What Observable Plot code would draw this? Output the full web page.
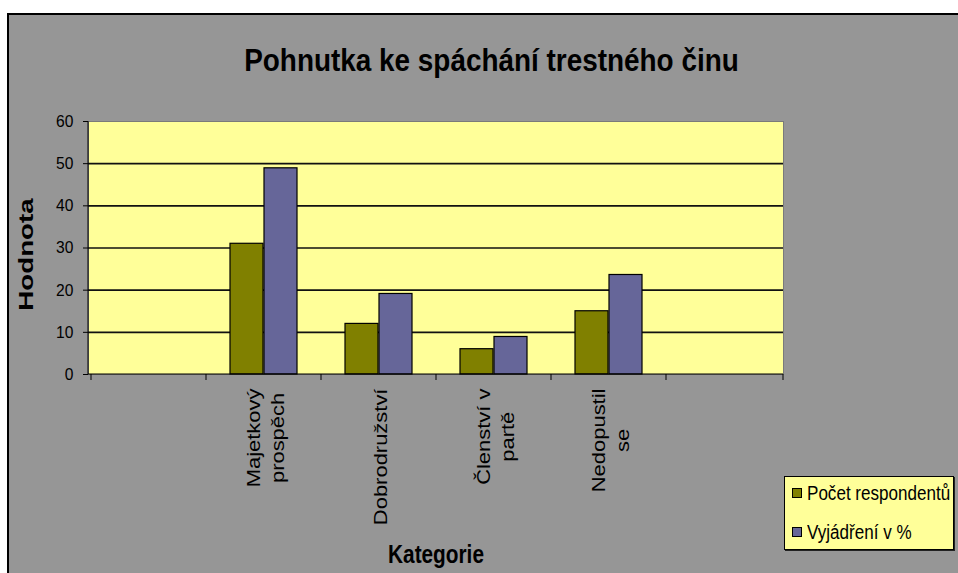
<!DOCTYPE html>
<html><head><meta charset="utf-8">
<script src="https://cdn.jsdelivr.net/npm/d3@7"></script>
<script src="https://cdn.jsdelivr.net/npm/@observablehq/plot@0.6"></script>
<style>
html,body{margin:0;padding:0;background:#fff;width:958px;height:573px;overflow:hidden;font-family:"Liberation Sans",Arial,sans-serif;}
#bg{position:absolute;left:7px;top:13px;width:1000px;height:600px;background:#969696;border-left:2px solid #000;border-top:2px solid #000;}
#title{position:absolute;left:0;width:983px;top:44.5px;text-align:center;font-weight:bold;font-size:31px;line-height:31px;transform:scaleX(0.9);transform-origin:491.5px 0;white-space:nowrap;color:#000;}
#chart{position:absolute;left:0;top:0;}
#legend{position:absolute;left:784px;top:476px;width:170px;height:74px;box-sizing:border-box;background:#ffff99;border:1px solid #000;box-shadow:1px 1px 0 #222;}
.row{position:absolute;left:7px;height:22px;display:flex;align-items:center;}
.sw{width:8px;height:8px;border:1px solid #000;}
.lt{margin-left:5px;font-size:20px;line-height:22px;transform:scaleX(0.853);transform-origin:0 50%;white-space:nowrap;color:#000;}
</style>
</head><body>
<div id="bg"></div>
<div id="title"></div>
<div id="chart"></div>
<div id="legend"></div>
<script>
const chartTitle = "Pohnutka ke spáchání trestného činu";
const yLabel = "Hodnota";
const xLabel = "Kategorie";
const categories = ["Majetkový prospěch", "Dobrodružství", "Členství v partě", "Nedopustil se"];
const tickLabels = ["Majetkový\nprospěch", "Dobrodružství", "Členství v\npartě", "Nedopustil\nse"];
const seriesNames = ["Počet respondentů", "Vyjádření v %"];
const pocetRespondentu = [31, 12, 6, 15];
const vyjadreniProcent = [48.9, 19.1, 8.9, 23.6];
const seriesColors = ["#808000", "#666699"];
const yTicks = [0, 10, 20, 30, 40, 50, 60];
const emptySlots = ["", " "];

const xDomain = [emptySlots[0], ...categories, emptySlots[1]];
const labelOf = new Map(categories.map((c, i) => [c, tickLabels[i]]));
const rowsA = categories.map((c, i) => ({category: c, series: seriesNames[0], value: pocetRespondentu[i]}));
const rowsB = categories.map((c, i) => ({category: c, series: seriesNames[1], value: vyjadreniProcent[i]}));

document.getElementById("title").textContent = chartTitle;

const axisLines = (index, scales, values, dims) => {
  const g = d3.create("svg:g").attr("stroke", "#000").attr("stroke-width", 1).attr("fill", "none");
  const xL = dims.marginLeft, xR = dims.width - dims.marginRight;
  const yB = dims.height - dims.marginBottom, yT = dims.marginTop;
  g.append("line").attr("x1", xL).attr("x2", xL).attr("y1", yT).attr("y2", yB);
  g.append("line").attr("x1", xL).attr("x2", xR).attr("y1", yB).attr("y2", yB);
  const xs = xDomain.map(d => scales.x(d)).concat([xR]);
  xs.forEach(x => g.append("line").attr("x1", x).attr("x2", x).attr("y1", yB).attr("y2", yB + 6));
  return g.node();
};

const plot = Plot.plot({
  width: 958, height: 573,
  marginLeft: 88, marginRight: 175, marginTop: 121, marginBottom: 199,
  style: {background: "transparent", color: "#000", fontFamily: "'Liberation Sans', Arial, sans-serif", overflow: "visible"},
  x: {type: "band", domain: xDomain, padding: 0},
  y: {domain: [yTicks[0], yTicks[yTicks.length - 1]]},
  color: {domain: seriesNames, range: seriesColors},
  marks: [
    Plot.frame({fill: "#ffff99", stroke: "#7a7a7a"}),
    Plot.ruleY(yTicks.filter(t => t > yTicks[0] && t < yTicks[yTicks.length - 1]), {stroke: "#111", strokeWidth: 1.6}),
    Plot.barY(rowsA, {x: "category", y: "value", fill: "series", stroke: "#000", strokeWidth: 1.2, insetLeft: 24, insetRight: 58}),
    Plot.barY(rowsB, {x: "category", y: "value", fill: "series", stroke: "#000", strokeWidth: 1.2, insetLeft: 58, insetRight: 24}),
    axisLines,
    Plot.axisY({ticks: yTicks, tickSize: 5, tickPadding: 10, fontSize: 17, label: null, tickFormat: d => String(d)}),
    Plot.axisX({tickSize: 0, tickRotate: -90, tickPadding: 14, fontSize: 18, lineHeight: 1.33, label: null, tickFormat: d => labelOf.get(d) ?? ""}),
    Plot.text([yLabel], {frameAnchor: "left", dx: -62, dy: 6.5, rotate: -90, fontSize: 21, fontWeight: "bold", textAnchor: "middle", lineAnchor: "middle"}),
    Plot.text([xLabel], {frameAnchor: "bottom", dy: 180, fontSize: 26, fontWeight: "bold", textAnchor: "middle", lineAnchor: "middle"})
  ]
});

document.getElementById("chart").appendChild(plot);

function appendTransform(t, extra) {
  const tr = t.getAttribute("transform") || "";
  t.setAttribute("transform", (tr + " " + extra).trim());
}
// x tick labels: stretch along the text and centre each line within its block
plot.querySelectorAll('g[aria-label="x-axis tick label"] text').forEach(t => {
  const spans = t.querySelectorAll("tspan");
  const lens = spans.length ? Array.from(spans, s => s.getComputedTextLength()) : [t.getComputedTextLength()];
  const L = Math.max(...lens);
  t.setAttribute("text-anchor", "middle");
  appendTransform(t, `scale(1.22,1) translate(${-L / 2},0)`);
});
plot.querySelectorAll('g[aria-label="y-axis tick label"] text').forEach(t => appendTransform(t, "scale(0.92,1)"));
plot.querySelectorAll("text").forEach(t => {
  if (t.textContent === yLabel) appendTransform(t, "scale(1.32,1)");
  if (t.textContent === xLabel) appendTransform(t, "scale(0.8,1)");
});

const legend = document.getElementById("legend");
const rowTops = [5, 43.7];
seriesNames.forEach((name, i) => {
  const row = document.createElement("div");
  row.className = "row";
  row.style.top = rowTops[i] + "px";
  const sw = document.createElement("div");
  sw.className = "sw";
  sw.style.background = seriesColors[i];
  const lt = document.createElement("div");
  lt.className = "lt";
  lt.textContent = name;
  row.appendChild(sw); row.appendChild(lt);
  legend.appendChild(row);
});
</script>
</body></html>
